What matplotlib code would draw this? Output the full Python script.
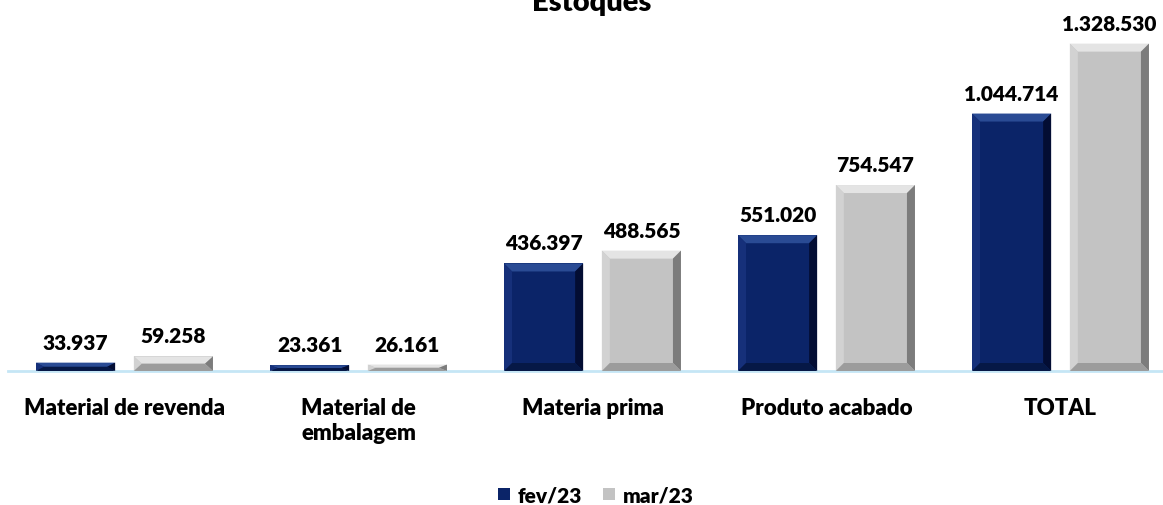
import numpy as np
import matplotlib.pyplot as plt
from matplotlib.patches import Polygon, Patch

# data
categorias = ['Material de revenda', 'Material de\nembalagem', 'Materia prima',
              'Produto acabado', 'TOTAL']
fev23 = [33937, 23361, 436397, 551020, 1044714]
mar23 = [59258, 26161, 488565, 754547, 1328530]
series = ['fev/23', 'mar/23']

plt.rcParams['font.family'] = ['Lato', 'DejaVu Sans']

W, H = 1163, 506
fig = plt.figure(figsize=(W / 100, H / 100), dpi=100)
ax = fig.add_axes([7.5 / W, 134 / H, 1170 / W, 345 / H])
ax.set_xlim(-0.5, 4.5)
ax.set_ylim(0, 1400000)

x = np.arange(len(categorias))
bw = 0.338
off = 0.209

# colours: face, top, left, right, bottom
cores = {
    'fev/23': ('#0b2468', '#2a4b94', '#16307a', '#030d33', '#061846'),
    'mar/23': ('#c3c3c3', '#e4e4e4', '#d2d2d2', '#7c7c7c', '#9c9c9c'),
}

bars1 = ax.bar(x - off, fev23, bw, color=cores['fev/23'][0], zorder=2)
bars2 = ax.bar(x + off, mar23, bw, color=cores['mar/23'][0], zorder=2)

# bevel effect
px_x = 5.0 / 1170
px_y = 1400000 / 345
bev = 8
for bars, nome in [(bars1, 'fev/23'), (bars2, 'mar/23')]:
    face, top, left, right, bottom = cores[nome]
    for b in bars:
        x0, y0 = b.get_x(), 0
        x1, y1 = x0 + b.get_width(), b.get_height()
        bx = bev * px_x
        by = min(bev * px_y, b.get_height() / 2)
        polys = [
            ([(x0, y1), (x1, y1), (x1 - bx, y1 - by), (x0 + bx, y1 - by)], top),
            ([(x0, y0), (x0, y1), (x0 + bx, y1 - by), (x0 + bx, y0 + by)], left),
            ([(x1, y0), (x1, y1), (x1 - bx, y1 - by), (x1 - bx, y0 + by)], right),
            ([(x0, y0), (x1, y0), (x1 - bx, y0 + by), (x0 + bx, y0 + by)], bottom),
        ]
        for pts, c in polys:
            ax.add_patch(Polygon(pts, closed=True, facecolor=c, edgecolor='none', zorder=3))

def fmt(v):
    return f'{v:,}'.replace(',', '.')

for bars, vals in [(bars1, fev23), (bars2, mar23)]:
    for b, v in zip(bars, vals):
        ax.annotate(fmt(v), (b.get_x() + b.get_width() / 2, v),
                    xytext=(0, 11), textcoords='offset pixels',
                    ha='center', va='bottom', fontsize=15, fontweight='heavy')

for s in ['top', 'right', 'left']:
    ax.spines[s].set_visible(False)
ax.spines['bottom'].set_color('#c5e6f5')
ax.spines['bottom'].set_linewidth(2)
ax.set_yticks([])
ax.set_xticks(x)
ax.set_xticklabels(categorias, fontsize=16, fontweight='heavy', linespacing=1.2)
ax.tick_params(axis='x', length=0, pad=19)

fig.text(592 / W, 1.0 + 10 / H, 'Estoques', ha='center', va='top',
         fontsize=21, fontweight='heavy')

handles = [Patch(facecolor=cores[s][0], label=s) for s in series]
fig.legend(handles=handles, loc='center', bbox_to_anchor=(596 / W, 1 - 496 / H),
           ncol=2, frameon=False, handlelength=0.55, handleheight=0.55,
           handletextpad=0.4, columnspacing=1.0, prop={'size': 15, 'weight': 'heavy'})

fig.savefig('out.png', dpi=100)
